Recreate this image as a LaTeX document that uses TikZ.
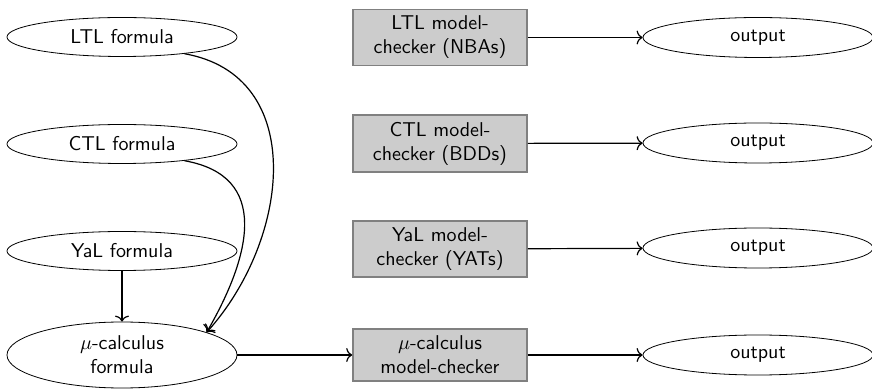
\documentclass[tikz,border=0pt]{standalone}
\usetikzlibrary{shapes.geometric,arrows.meta}
\begin{document}
\begin{tikzpicture}[x=0.5pt,y=-0.5pt,font=\sffamily,>={To[length=3pt,width=7pt]},
        formula/.style={draw,ellipse,inner sep=0pt,minimum width=115pt,minimum height=19.5pt,align=center},
        checker/.style={draw=black!50,thick,fill=black!20,align=center,minimum width=87pt},
        result/.style={draw,ellipse,inner sep=0pt,minimum width=115pt,minimum height=20pt},
        link/.style={->,semithick}]
                \useasboundingbox (0,0) rectangle (872,389);
                \node[formula] (ltl) at (122,37) {LTL formula};
                \node[formula] (ctl) at (122,144) {CTL formula};
                \node[formula] (yal) at (122,251) {YaL formula};
                \node[formula,minimum height=33pt] (mu) at (122,355) {$\mu$-calculus\\formula};
                \node[checker] (ltlmc) at (440,37.5) {LTL model-\\checker (NBAs)};
                \node[checker] (ctlmc) at (440,143.5) {CTL model-\\checker (BDDs)};
                \node[checker] (yalmc) at (440,249) {YaL model-\\checker (YATs)};
                \node[checker] (mumc) at (440,355) {$\mu$-calculus\\model-checker};
                \node[result] (out1) at (758,37.5) {output};
                \node[result] (out2) at (758,143) {output};
                \node[result] (out3) at (758,248) {output};
                \node[result] (out4) at (758,355) {output};
                % translations into the mu-calculus
                \draw[link] (ltl.-15) to[out=-10,in=48,looseness=1.15] (mu.15);
                \draw[link] (ctl.-15) to[out=-10,in=60,looseness=1.3] (mu.15);
                \draw[link] (yal) -- (mu);
                \draw[link] (mu) -- (mumc);
                % checkers to outputs
                \draw[link] (ltlmc) -- (out1);
                \draw[link] (ctlmc) -- (out2);
                \draw[link] (yalmc) -- (out3);
                \draw[link] (mumc) -- (out4);
            \end{tikzpicture}
\end{document}
